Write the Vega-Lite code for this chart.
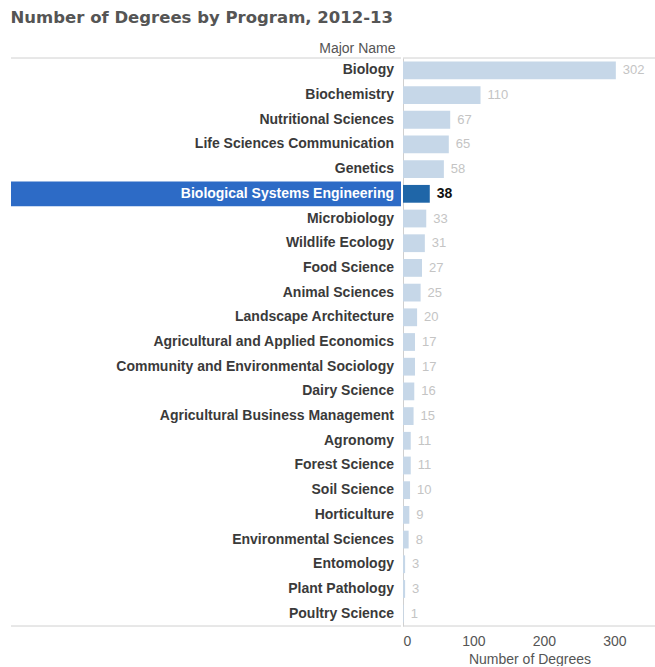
{
  "$schema": "https://vega.github.io/schema/vega-lite/v6.json",
  "padding": {"left": 10, "top": 10, "right": 0, "bottom": 0},
  "background": "white",
  "title": {"text": "Number of Degrees by Program, 2012-13", "anchor": "start", "font": "DejaVu Sans", "fontSize": 16.5, "fontWeight": "bold", "color": "#555555", "offset": 15},
  "data": {"values": [
    {"Major": "Biology", "Degrees": 302},
    {"Major": "Biochemistry", "Degrees": 110},
    {"Major": "Nutritional Sciences", "Degrees": 67},
    {"Major": "Life Sciences Communication", "Degrees": 65},
    {"Major": "Genetics", "Degrees": 58},
    {"Major": "Biological Systems Engineering", "Degrees": 38},
    {"Major": "Microbiology", "Degrees": 33},
    {"Major": "Wildlife Ecology", "Degrees": 31},
    {"Major": "Food Science", "Degrees": 27},
    {"Major": "Animal Sciences", "Degrees": 25},
    {"Major": "Landscape Architecture", "Degrees": 20},
    {"Major": "Agricultural and Applied Economics", "Degrees": 17},
    {"Major": "Community and Environmental Sociology", "Degrees": 17},
    {"Major": "Dairy Science", "Degrees": 16},
    {"Major": "Agricultural Business Management", "Degrees": 15},
    {"Major": "Agronomy", "Degrees": 11},
    {"Major": "Forest Science", "Degrees": 11},
    {"Major": "Soil Science", "Degrees": 10},
    {"Major": "Horticulture", "Degrees": 9},
    {"Major": "Environmental Sciences", "Degrees": 8},
    {"Major": "Entomology", "Degrees": 3},
    {"Major": "Plant Pathology", "Degrees": 3},
    {"Major": "Poultry Science", "Degrees": 1}
  ]},
  "spacing": 2,
  "bounds": "flush",
  "hconcat": [
    {
      "width": 390,
      "height": 568,
      "title": {"text": "Major Name", "anchor": "end", "font": "Liberation Sans", "fontSize": 14, "fontWeight": "normal", "color": "#555555", "offset": 2, "dx": -6},
      "layer": [
        {
          "mark": {"type": "rect"},
          "encoding": {
            "y": {"field": "Major", "type": "nominal", "sort": null, "axis": null, "scale": {"paddingInner": 0, "paddingOuter": 0}},
            "x": {"datum": 0, "type": "quantitative", "scale": {"domain": [0, 1], "nice": false}, "axis": null},
            "x2": {"datum": 1},
            "color": {"condition": {"test": "datum.Major == 'Biological Systems Engineering'", "value": "#2d6bc6"}, "value": "transparent"}
          }
        },
        {
          "mark": {"type": "text", "align": "right", "baseline": "middle", "dx": -7, "font": "Liberation Sans", "fontSize": 14, "fontWeight": "bold"},
          "encoding": {
            "y": {"field": "Major", "type": "nominal", "sort": null},
            "x": {"datum": 1, "type": "quantitative"},
            "text": {"field": "Major"},
            "color": {"condition": {"test": "datum.Major == 'Biological Systems Engineering'", "value": "#ffffff"}, "value": "#3a3a3a"}
          }
        },
        {
          "transform": [{"filter": "datum.Major == 'Biology'"}],
          "mark": {"type": "rule", "color": "#d0d0d0", "strokeWidth": 1},
          "encoding": {"y": {"field": "Major", "type": "nominal", "sort": null, "bandPosition": 0}}
        },
        {
          "transform": [{"filter": "datum.Major == 'Poultry Science'"}],
          "mark": {"type": "rule", "color": "#d0d0d0", "strokeWidth": 1},
          "encoding": {"y": {"field": "Major", "type": "nominal", "sort": null, "bandPosition": 1}}
        }
      ]
    },
    {
      "width": 253,
      "height": 568,
      "layer": [
        {
          "mark": {"type": "bar", "height": {"band": 0.72}},
          "encoding": {
            "y": {"field": "Major", "type": "nominal", "sort": null, "scale": {"paddingInner": 0, "paddingOuter": 0},
                  "axis": {"labels": false, "ticks": false, "title": null, "domain": true, "domainColor": "#d0d0d0", "grid": false}},
            "x": {"field": "Degrees", "type": "quantitative", "scale": {"domain": [0, 359], "nice": false},
                  "axis": {"values": [0, 100, 200, 300], "grid": false, "ticks": false, "domain": false, "labelFont": "Liberation Sans", "labelFontSize": 14, "labelColor": "#555555", "labelPadding": 8,
                           "title": "Number of Degrees", "titleFont": "Liberation Sans", "titleFontSize": 14, "titleFontWeight": "normal", "titleColor": "#555555", "titlePadding": 4}},
            "color": {"condition": {"test": "datum.Major == 'Biological Systems Engineering'", "value": "#1f66a8"}, "value": "#c6d7e8"}
          }
        },
        {
          "mark": {"type": "text", "align": "left", "baseline": "middle", "dx": 7, "font": "Liberation Sans",
                   "fontSize": {"expr": "datum.Major == 'Biological Systems Engineering' ? 14 : 13"},
                   "fontWeight": {"expr": "datum.Major == 'Biological Systems Engineering' ? 'bold' : 'normal'"}},
          "encoding": {
            "y": {"field": "Major", "type": "nominal", "sort": null},
            "x": {"field": "Degrees", "type": "quantitative"},
            "text": {"field": "Degrees"},
            "color": {"condition": {"test": "datum.Major == 'Biological Systems Engineering'", "value": "#111111"}, "value": "#c4c4c4"}
          }
        },
        {
          "transform": [{"filter": "datum.Major == 'Biology'"}],
          "mark": {"type": "rule", "color": "#d0d0d0", "strokeWidth": 1},
          "encoding": {"y": {"field": "Major", "type": "nominal", "sort": null, "bandPosition": 0}}
        },
        {
          "transform": [{"filter": "datum.Major == 'Poultry Science'"}],
          "mark": {"type": "rule", "color": "#d0d0d0", "strokeWidth": 1},
          "encoding": {"y": {"field": "Major", "type": "nominal", "sort": null, "bandPosition": 1}}
        }
      ]
    }
  ],
  "config": {"view": {"stroke": null}}
}
